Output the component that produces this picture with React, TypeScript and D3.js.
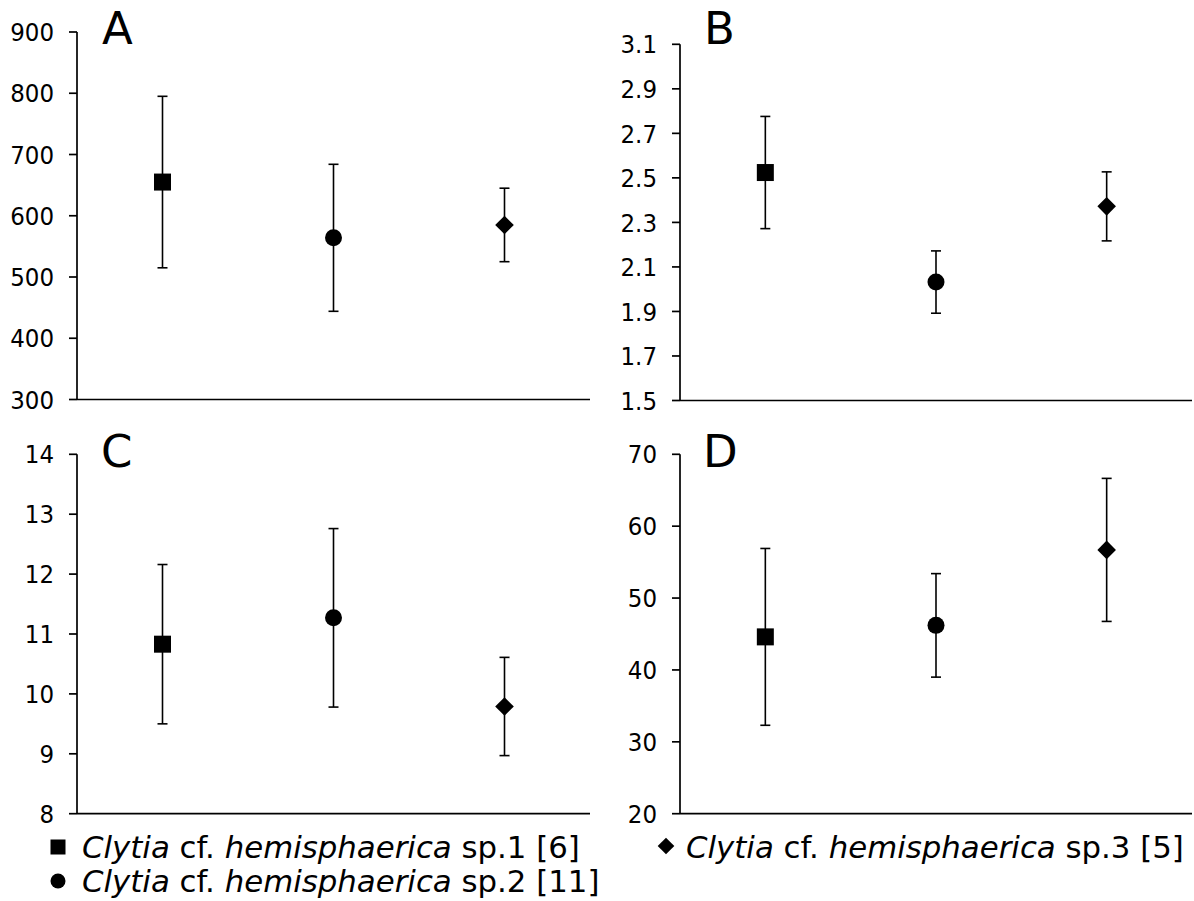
import React from "react";
import * as d3 from "d3";

const W = 1194;
const H = 901;

// Species order (x categories) and marker shape for each
const species = ["sp.1", "sp.2", "sp.3"];
const markers = ["square", "circle", "diamond"];

// Panel A
const meanA = [655, 564, 585];
const sdA = [140, 120, 60];
const ticksA = [300, 400, 500, 600, 700, 800, 900];

// Panel B
const meanB = [2.524, 2.032, 2.372];
const sdB = [0.252, 0.14, 0.155];
const ticksB = [1.5, 1.7, 1.9, 2.1, 2.3, 2.5, 2.7, 2.9, 3.1];

// Panel C
const meanC = [10.83, 11.27, 9.79];
const sdC = [1.33, 1.49, 0.82];
const ticksC = [8, 9, 10, 11, 12, 13, 14];

// Panel D
const meanD = [44.6, 46.2, 56.7];
const sdD = [12.3, 7.2, 9.95];
const ticksD = [20, 30, 40, 50, 60, 70];

// Legend entries
const legendItems = [
  { marker: "square", genus: "Clytia", epithet: "hemisphaerica", tail: " sp.1 [6]" },
  { marker: "circle", genus: "Clytia", epithet: "hemisphaerica", tail: " sp.2 [11]" },
  { marker: "diamond", genus: "Clytia", epithet: "hemisphaerica", tail: " sp.3 [5]" },
];

const FONT = "'DejaVu Sans', Verdana, sans-serif";

function Marker({ kind, x, y, s }: { kind: string; x: number; y: number; s: number }) {
  if (kind === "square") {
    return <rect x={x - s / 2} y={y - s / 2} width={s} height={s} fill="#000" />;
  }
  if (kind === "circle") {
    return <circle cx={x} cy={y} r={s / 2} fill="#000" />;
  }
  const h = s / 2 + 0.8;
  return (
    <path
      d={`M${x},${y - h}L${x + h},${y}L${x},${y + h}L${x - h},${y}Z`}
      fill="#000"
    />
  );
}

type PanelProps = {
  letter: string;
  left: number;
  right: number;
  top: number;
  bottom: number;
  domain: [number, number];
  ticks: number[];
  fmt: (v: number) => string;
  means: number[];
  sds: number[];
  letterX: number;
  letterY: number;
};

function Panel(p: PanelProps) {
  const x = d3.scalePoint<string>().domain(species).range([p.left, p.right]).padding(0.5);
  const y = d3.scaleLinear().domain(p.domain).range([p.bottom, p.top]);
  const capHalf = 5;
  return (
    <g>
      {/* y axis */}
      <line x1={p.left} x2={p.left} y1={y(p.domain[0])} y2={y(p.domain[1])} stroke="#000" strokeWidth={1.7} />
      {/* x axis */}
      <line x1={p.left} x2={p.right} y1={y(p.domain[0])} y2={y(p.domain[0])} stroke="#000" strokeWidth={1.7} />
      {p.ticks.map((t) => (
        <g key={t}>
          <line x1={p.left - 8} x2={p.left} y1={y(t)} y2={y(t)} stroke="#000" strokeWidth={1.7} />
          <text
            x={p.left - 23}
            y={y(t)}
            dy="0.36em"
            textAnchor="end"
            fontSize={25.5}
            fontFamily="'DejaVu Sans Condensed', 'DejaVu Sans', sans-serif"
            style={{ fontStretch: "condensed" }}
            fill="#000"
          >
            {p.fmt(t)}
          </text>
        </g>
      ))}
      <text x={p.letterX} y={p.letterY} fontSize={45} fontFamily={FONT} fill="#000">
        {p.letter}
      </text>
      {species.map((sp, i) => {
        const cx = x(sp) as number;
        const hi = y(p.means[i] + p.sds[i]);
        const lo = y(p.means[i] - p.sds[i]);
        return (
          <g key={sp}>
            <line x1={cx} x2={cx} y1={hi} y2={lo} stroke="#000" strokeWidth={1.6} />
            <line x1={cx - capHalf} x2={cx + capHalf} y1={hi} y2={hi} stroke="#000" strokeWidth={1.6} />
            <line x1={cx - capHalf} x2={cx + capHalf} y1={lo} y2={lo} stroke="#000" strokeWidth={1.6} />
            <Marker kind={markers[i]} x={cx} y={y(p.means[i])} s={17} />
          </g>
        );
      })}
    </g>
  );
}

export default function App() {
  const fInt = (v: number) => d3.format("d")(v);
  const fDec = (v: number) => d3.format(".1f")(v);
  const legendPos = [
    { x: 58, y: 847, tx: 82, ty: 858 },
    { x: 58, y: 881, tx: 82, ty: 892 },
    { x: 666, y: 846, tx: 686, ty: 858 },
  ];
  return (
    <svg
      width={W}
      height={H}
      viewBox={`0 0 ${W} ${H}`}
      style={{ position: "absolute", left: 0, top: 0, background: "#fff" }}
    >
      <rect x={0} y={0} width={W} height={H} fill="#fff" />
      <Panel letter="A" left={77} right={590} top={32} bottom={399.5} domain={[300, 900]} ticks={ticksA} fmt={fInt} means={meanA} sds={sdA} letterX={102} letterY={44} />
      <Panel letter="B" left={680} right={1192} top={44.3} bottom={400.5} domain={[1.5, 3.1]} ticks={ticksB} fmt={fDec} means={meanB} sds={sdB} letterX={704} letterY={44} />
      <Panel letter="C" left={77} right={590} top={454.3} bottom={813.7} domain={[8, 14]} ticks={ticksC} fmt={fInt} means={meanC} sds={sdC} letterX={101} letterY={467} />
      <Panel letter="D" left={680} right={1192} top={454.3} bottom={813.7} domain={[20, 70]} ticks={ticksD} fmt={fInt} means={meanD} sds={sdD} letterX={703} letterY={467} />
      {legendItems.map((it, i) => {
        const lp = legendPos[i];
        return (
          <g key={i}>
            <Marker kind={it.marker} x={lp.x} y={lp.y} s={15} />
            <text x={lp.tx} y={lp.ty} fontSize={30.8} fontFamily={FONT} fill="#000">
              <tspan fontStyle="italic">{it.genus}</tspan>
              <tspan> cf. </tspan>
              <tspan fontStyle="italic">{it.epithet}</tspan>
              <tspan>{it.tail}</tspan>
            </text>
          </g>
        );
      })}
    </svg>
  );
}
